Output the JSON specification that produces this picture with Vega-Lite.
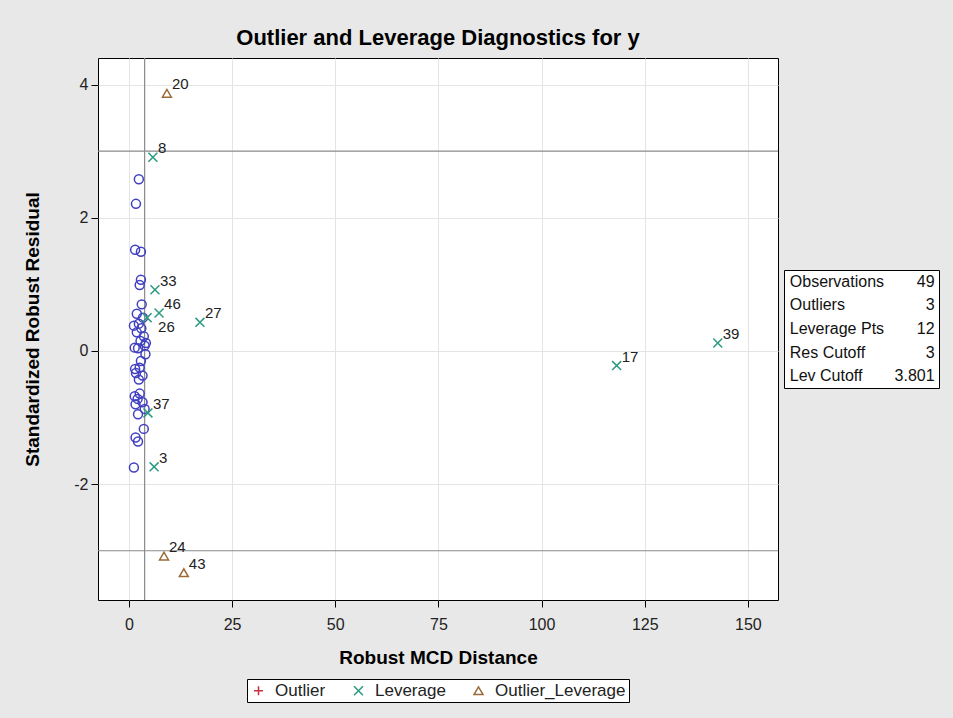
{
  "$schema": "https://vega.github.io/schema/vega-lite/v6.json",
  "background": "#e8e8e8",
  "padding": {"left": 23, "top": 26, "right": 13, "bottom": 15},
  "config": {
    "font": "Liberation Sans",
    "view": {"stroke": "black", "strokeWidth": 1, "fill": "white"},
    "axis": {
      "grid": true,
      "gridColor": "#e4e4e4",
      "domain": false,
      "tickColor": "black",
      "tickSize": 7,
      "labelColor": "#222222",
      "labelFontSize": 16,
      "titleFontSize": 19,
      "titleFontWeight": "bold",
      "titleColor": "black"
    },
    "axisX": {"labelPadding": 9},
    "axisY": {"labelPadding": 3},
    "legend": {"layout": {"bottom": {"anchor": "middle"}}}
  },
  "datasets": {
    "points": [
      {"d": 2.4, "r": 2.58, "type": "Normal", "id": ""},
      {"d": 1.7, "r": 2.21, "type": "Normal", "id": ""},
      {"d": 1.5, "r": 1.52, "type": "Normal", "id": ""},
      {"d": 2.9, "r": 1.49, "type": "Normal", "id": ""},
      {"d": 2.9, "r": 1.07, "type": "Normal", "id": ""},
      {"d": 2.6, "r": 0.99, "type": "Normal", "id": ""},
      {"d": 3.1, "r": 0.70, "type": "Normal", "id": ""},
      {"d": 1.9, "r": 0.56, "type": "Normal", "id": ""},
      {"d": 3.4, "r": 0.50, "type": "Normal", "id": ""},
      {"d": 1.2, "r": 0.38, "type": "Normal", "id": ""},
      {"d": 2.4, "r": 0.41, "type": "Normal", "id": ""},
      {"d": 3.0, "r": 0.34, "type": "Normal", "id": ""},
      {"d": 1.9, "r": 0.28, "type": "Normal", "id": ""},
      {"d": 3.6, "r": 0.22, "type": "Normal", "id": ""},
      {"d": 2.8, "r": 0.15, "type": "Normal", "id": ""},
      {"d": 4.1, "r": 0.12, "type": "Normal", "id": ""},
      {"d": 1.4, "r": 0.05, "type": "Normal", "id": ""},
      {"d": 3.8, "r": 0.08, "type": "Normal", "id": ""},
      {"d": 2.2, "r": 0.04, "type": "Normal", "id": ""},
      {"d": 4.0, "r": -0.05, "type": "Normal", "id": ""},
      {"d": 2.9, "r": -0.15, "type": "Normal", "id": ""},
      {"d": 1.5, "r": -0.27, "type": "Normal", "id": ""},
      {"d": 2.6, "r": -0.25, "type": "Normal", "id": ""},
      {"d": 1.7, "r": -0.33, "type": "Normal", "id": ""},
      {"d": 3.3, "r": -0.37, "type": "Normal", "id": ""},
      {"d": 2.4, "r": -0.43, "type": "Normal", "id": ""},
      {"d": 1.4, "r": -0.68, "type": "Normal", "id": ""},
      {"d": 2.6, "r": -0.64, "type": "Normal", "id": ""},
      {"d": 2.1, "r": -0.72, "type": "Normal", "id": ""},
      {"d": 3.3, "r": -0.77, "type": "Normal", "id": ""},
      {"d": 1.6, "r": -0.80, "type": "Normal", "id": ""},
      {"d": 2.2, "r": -0.95, "type": "Normal", "id": ""},
      {"d": 3.8, "r": -0.87, "type": "Normal", "id": ""},
      {"d": 3.6, "r": -1.17, "type": "Normal", "id": ""},
      {"d": 1.6, "r": -1.30, "type": "Normal", "id": ""},
      {"d": 2.2, "r": -1.36, "type": "Normal", "id": ""},
      {"d": 1.2, "r": -1.75, "type": "Normal", "id": ""},
      {"d": 5.8, "r": 2.91, "type": "Leverage", "id": "8"},
      {"d": 6.3, "r": 0.92, "type": "Leverage", "id": "33"},
      {"d": 7.3, "r": 0.57, "type": "Leverage", "id": "46"},
      {"d": 4.4, "r": 0.50, "type": "Leverage", "id": "26"},
      {"d": 17.2, "r": 0.43, "type": "Leverage", "id": "27"},
      {"d": 4.6, "r": -0.93, "type": "Leverage", "id": "37"},
      {"d": 6.1, "r": -1.74, "type": "Leverage", "id": "3"},
      {"d": 118.2, "r": -0.22, "type": "Leverage", "id": "17"},
      {"d": 142.7, "r": 0.12, "type": "Leverage", "id": "39"},
      {"d": 9.2, "r": 3.87, "type": "Outlier_Leverage", "id": "20"},
      {"d": 8.5, "r": -3.08, "type": "Outlier_Leverage", "id": "24"},
      {"d": 13.3, "r": -3.33, "type": "Outlier_Leverage", "id": "43"}
    ],
    "rescut": [{"res": 3}, {"res": -3}],
    "levcut": [{"lev": 3.801}],
    "stats": [
      {"stat": "Observations", "val": "49"},
      {"stat": "Outliers", "val": "3"},
      {"stat": "Leverage Pts", "val": "12"},
      {"stat": "Res Cutoff", "val": "3"},
      {"stat": "Lev Cutoff", "val": "3.801"}
    ]
  },
  "spacing": 6,
  "bounds": "flush",
  "center": true,
  "resolve": {"legend": {"color": "independent", "shape": "independent"}},
  "hconcat": [
    {
      "width": 680,
      "height": 542,
      "title": {"text": "Outlier and Leverage Diagnostics for y", "fontSize": 22, "fontWeight": "bold", "anchor": "middle", "offset": 7, "color": "black"},
      "layer": [
        {
          "data": {"name": "rescut"},
          "mark": {"type": "rule", "color": "#8a8a8a", "strokeWidth": 1.2},
          "encoding": {
            "y": {"field": "res", "type": "quantitative", "scale": {"domain": [-3.74, 4.40], "nice": false, "zero": false}, "axis": {"values": [-2, 0, 2, 4], "labelExpr": "'' + datum.value", "title": "Standardized Robust Residual", "titlePadding": 31}}
          }
        },
        {
          "data": {"name": "levcut"},
          "mark": {"type": "rule", "color": "#8a8a8a", "strokeWidth": 1.2},
          "encoding": {
            "x": {"field": "lev", "type": "quantitative", "scale": {"domain": [-7.5, 157.3], "nice": false, "zero": false}, "axis": {"values": [0, 25, 50, 75, 100, 125, 150], "title": "Robust MCD Distance", "titlePadding": 16}}
          }
        },
        {
          "data": {"name": "points"},
          "mark": {"type": "point", "filled": false, "size": 80, "strokeWidth": 1.5, "opacity": 1},
          "encoding": {
            "x": {"field": "d", "type": "quantitative"},
            "y": {"field": "r", "type": "quantitative"},
            "color": {
              "field": "type", "type": "nominal",
              "scale": {"domain": ["Normal", "Outlier", "Leverage", "Outlier_Leverage"], "range": ["#4040c0", "#c8303c", "#2a9a80", "#9a6a38"]},
              "legend": {"values": ["Outlier", "Leverage", "Outlier_Leverage"], "title": null, "orient": "bottom", "direction": "horizontal", "fillColor": "white", "strokeColor": "black", "padding": 3, "labelFontSize": 17, "labelColor": "#222222", "symbolStrokeWidth": 1.5, "symbolSize": 80, "symbolOpacity": 1, "columnPadding": 24, "labelOffset": 8, "offset": 12}
            },
            "shape": {
              "field": "type", "type": "nominal",
              "scale": {"domain": ["Normal", "Outlier", "Leverage", "Outlier_Leverage"], "range": ["circle", "M-1,0H1M0,-1V1", "M-1,-1L1,1M1,-1L-1,1", "triangle-up"]},
              "legend": {"values": ["Outlier", "Leverage", "Outlier_Leverage"], "title": null, "orient": "bottom", "direction": "horizontal", "fillColor": "white", "strokeColor": "black", "padding": 3, "labelFontSize": 17, "labelColor": "#222222", "symbolStrokeWidth": 1.5, "symbolSize": 80, "symbolOpacity": 1, "columnPadding": 24, "labelOffset": 8, "offset": 12}
            }
          }
        },
        {
          "data": {"name": "points"},
          "transform": [{"filter": "datum.id != '' && datum.id != '26'"}],
          "mark": {"type": "text", "align": "left", "baseline": "middle", "dx": 5, "dy": -9, "fontSize": 15, "color": "#222222"},
          "encoding": {
            "x": {"field": "d", "type": "quantitative"},
            "y": {"field": "r", "type": "quantitative"},
            "text": {"field": "id"}
          }
        },
        {
          "data": {"name": "points"},
          "transform": [{"filter": "datum.id == '26'"}],
          "mark": {"type": "text", "align": "left", "baseline": "middle", "dx": 11, "dy": 9, "fontSize": 15, "color": "#222222"},
          "encoding": {
            "x": {"field": "d", "type": "quantitative"},
            "y": {"field": "r", "type": "quantitative"},
            "text": {"field": "id"}
          }
        }
      ]
    },
    {
      "width": 155,
      "height": 118,
      "data": {"name": "stats"},
      "layer": [
        {
          "mark": {"type": "text", "align": "left", "fontSize": 16, "color": "#111111"},
          "encoding": {
            "y": {"field": "stat", "type": "nominal", "sort": null, "axis": null},
            "x": {"datum": 0, "type": "quantitative", "scale": {"domain": [-0.04, 1.03], "nice": false, "zero": false}, "axis": null},
            "text": {"field": "stat"}
          }
        },
        {
          "mark": {"type": "text", "align": "right", "fontSize": 16, "color": "#111111"},
          "encoding": {
            "y": {"field": "stat", "type": "nominal", "sort": null, "axis": null},
            "x": {"datum": 1, "type": "quantitative", "scale": {"domain": [-0.04, 1.03], "nice": false, "zero": false}, "axis": null},
            "text": {"field": "val"}
          }
        }
      ]
    }
  ]
}
